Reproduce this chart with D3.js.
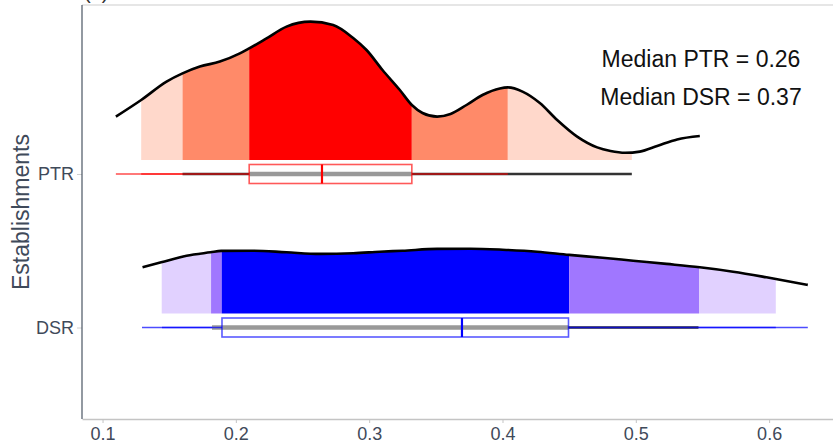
<!DOCTYPE html>
<html>
<head>
<meta charset="utf-8">
<script src="https://cdn.jsdelivr.net/npm/d3@7"></script>
<style>
  body { margin: 0; background: #fff; }
  svg { display: block; font-family: "Liberation Sans", Arial, sans-serif; }
</style>
</head>
<body>
<div id="chart"></div>
<script>
// categories, top to bottom
const groups = ['PTR', 'DSR'];

// density curves (x = ratio, d = density)
const ptrDensity = [
  [0.110, 2.17], [0.129, 3.00], [0.148, 3.92], [0.160, 4.33], [0.173, 4.67],
  [0.188, 4.92], [0.203, 5.33], [0.210, 5.58], [0.223, 6.08], [0.238, 6.67],
  [0.256, 6.92], [0.273, 6.75], [0.288, 6.10], [0.298, 5.50], [0.310, 4.50],
  [0.323, 3.50], [0.332, 2.75], [0.340, 2.35], [0.351, 2.17], [0.361, 2.30],
  [0.373, 2.75], [0.385, 3.25], [0.398, 3.58], [0.404, 3.63], [0.415, 3.42],
  [0.428, 2.85], [0.441, 2.00], [0.456, 1.17], [0.471, 0.63], [0.481, 0.45],
  [0.492, 0.36], [0.503, 0.42], [0.516, 0.70], [0.531, 1.03], [0.548, 1.20]
];
const dsrDensity = [
  [0.130, 2.31], [0.144, 2.56], [0.163, 2.89], [0.181, 3.06], [0.189, 3.13],
  [0.213, 3.14], [0.238, 3.06], [0.263, 2.98], [0.288, 3.01], [0.308, 3.09],
  [0.325, 3.14], [0.351, 3.23], [0.376, 3.24], [0.400, 3.19], [0.426, 3.09],
  [0.450, 2.93], [0.475, 2.79], [0.498, 2.64], [0.523, 2.48], [0.548, 2.31],
  [0.573, 2.09], [0.598, 1.81], [0.629, 1.43]
];

// shaded interval cut points under each curve
const ptrCuts = [0.129, 0.160, 0.210, 0.332, 0.404, 0.497];
const dsrCuts = [0.1444, 0.1814, 0.1894, 0.450, 0.5474, 0.605];

// boxplot stats
const ptrBox = { lo: 0.110, q1: 0.210, med: 0.2646, q3: 0.332, hi: 0.404 };
const dsrBox = { lo: 0.1296, q1: 0.1896, med: 0.3696, q3: 0.4495, hi: 0.629 };

// range line and intervals
const ptrRange = [0.129, 0.409];
const dsrRange = [0.1446, 0.605];
const ptrThin = [0.160, 0.497];
const dsrThin = [0.1821, 0.547];
const ptrThick = [0.210, 0.332];
const dsrThick = [0.1821, 0.4495];

const xTicks = [0.1, 0.2, 0.3, 0.4, 0.5, 0.6];
const medianLabels = ['Median PTR = 0.26', 'Median DSR = 0.37'];

const series = [
  { key: 'PTR', density: ptrDensity, cuts: ptrCuts, box: ptrBox, range: ptrRange, thin: ptrThin, thick: ptrThick,
    fills: ['#FFD8CB', '#FF8A69', '#FF0000', '#FF8A69', '#FFD8CB'], col: '#FF0000' },
  { key: 'DSR', density: dsrDensity, cuts: dsrCuts, box: dsrBox, range: dsrRange, thin: dsrThin, thick: dsrThick,
    fills: ['#E1D1FF', '#A077FF', '#0000FF', '#A077FF', '#E1D1FF'], col: '#0000FF' }
];

const W = 833, H = 445;
const margin = { top: 5, right: 0, bottom: 26, left: 82 };
const width = W - margin.left - margin.right;
const height = H - margin.top - margin.bottom;

const svg = d3.select('#chart').append('svg')
  .attr('width', W).attr('height', H);

const defs = svg.append('defs');

const g = svg.append('g')
  .attr('transform', 'translate(' + margin.left + ',' + margin.top + ')');

const x = d3.scaleLinear().domain([0.0846, 0.6479]).range([0, width]);
const y = d3.scalePoint().domain(groups).range([169, 322.5]);
const dens = d3.scaleLinear().domain([0, 7]).range([0, 140]);
const lift = 14; // curve baseline sits above the box row

// top border
g.append('line')
  .attr('x1', 0).attr('x2', width).attr('y1', 0).attr('y2', 0)
  .attr('stroke', '#e6e6e6').attr('stroke-width', 2);

// panel tag, mostly above the page edge as in the source
svg.append('text')
  .attr('x', 84).attr('y', -1)
  .attr('font-size', 20).attr('fill', '#333')
  .text('(a)');

series.forEach((s, si) => {
  const base = y(s.key) - lift;
  const area = d3.area()
    .x(d => x(d[0]))
    .y0(base)
    .y1(d => base - dens(d[1]))
    .curve(d3.curveMonotoneX);
  const line = d3.line()
    .x(d => x(d[0]))
    .y(d => base - dens(d[1]))
    .curve(d3.curveMonotoneX);

  // shaded bands: whole area clipped to each interval
  d3.pairs(s.cuts).forEach((p, i) => {
    const id = 'clip-' + si + '-' + i;
    defs.append('clipPath').attr('id', id)
      .append('rect')
      .attr('x', x(p[0])).attr('width', x(p[1]) - x(p[0]))
      .attr('y', -margin.top).attr('height', H);
    g.append('path')
      .datum(s.density)
      .attr('clip-path', 'url(#' + id + ')')
      .attr('d', area)
      .attr('fill', s.fills[i]);
  });

  g.append('path')
    .datum(s.density)
    .attr('d', line)
    .attr('fill', 'none')
    .attr('stroke', '#000')
    .attr('stroke-width', 2.6);

  const ry = y(s.key);
  const seg = (a, b, color, w, op) => g.append('line')
    .attr('x1', x(a)).attr('x2', x(b)).attr('y1', ry).attr('y2', ry)
    .attr('stroke', color).attr('stroke-width', w).attr('stroke-opacity', op);

  seg(s.range[0], s.range[1], s.col, 1.6, 0.7);
  seg(s.thin[0], s.thin[1], '#333', 2.4, 1);
  seg(s.thick[0], s.thick[1], '#999', 4.5, 1);
  seg(s.box.lo, s.box.q1, s.col, 1.6, 0.7);
  seg(s.box.q3, s.box.hi, s.col, 1.6, 0.7);

  g.append('rect')
    .attr('x', x(s.box.q1)).attr('y', ry - 9.5)
    .attr('width', x(s.box.q3) - x(s.box.q1)).attr('height', 19)
    .attr('fill', 'none')
    .attr('stroke', s.col).attr('stroke-opacity', 0.65).attr('stroke-width', 1.6);

  g.append('line')
    .attr('x1', x(s.box.med)).attr('x2', x(s.box.med))
    .attr('y1', ry - 9.5).attr('y2', ry + 9.5)
    .attr('stroke', s.col).attr('stroke-width', 2.2);
});

// axes
const xAxis = g.append('g')
  .attr('transform', 'translate(0,' + height + ')')
  .call(d3.axisBottom(x).tickValues(xTicks).tickFormat(d3.format('.1f'))
    .tickSize(4).tickSizeOuter(0).tickPadding(4));
xAxis.select('.domain').attr('stroke', '#c4c4c4').attr('stroke-width', 1.5);
xAxis.selectAll('.tick line').attr('stroke', '#c4c4c4');
xAxis.selectAll('.tick text')
  .attr('font-size', 18).attr('fill', '#3f4a5a')
  .attr('font-family', '"Liberation Sans", Arial, sans-serif');

const yAxis = g.append('g')
  .call(d3.axisLeft(y).tickSize(5).tickSizeOuter(0).tickPadding(3));
yAxis.select('.domain').remove();
yAxis.selectAll('.tick line').attr('stroke', '#d0d0d0');
yAxis.selectAll('.tick text')
  .attr('font-size', 18).attr('fill', '#3f4a5a')
  .attr('font-family', '"Liberation Sans", Arial, sans-serif');

g.append('line')
  .attr('x1', 0).attr('x2', 0).attr('y1', 0).attr('y2', height)
  .attr('stroke', '#4a5563').attr('stroke-width', 1.2);

svg.append('text')
  .attr('transform', 'translate(29,' + (margin.top + 207) + ') rotate(-90)')
  .attr('text-anchor', 'middle')
  .attr('font-size', 23).attr('fill', '#3f4a5a')
  .text('Establishments');

// median annotation
svg.selectAll('.median-label')
  .data(medianLabels)
  .join('text')
  .attr('class', 'median-label')
  .attr('x', 701)
  .attr('y', (d, i) => 67 + i * 37.5)
  .attr('text-anchor', 'middle')
  .attr('font-size', 23)
  .attr('fill', '#111')
  .text(d => d);
</script>
</body>
</html>
